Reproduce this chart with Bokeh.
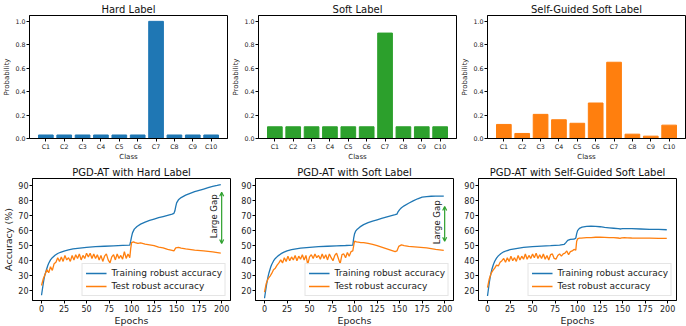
import math
from bokeh.plotting import figure
from bokeh.layouts import column, row
from bokeh.models import FactorRange, Range1d, Label, Arrow, OpenHead, FixedTicker, PrintfTickFormatter
from bokeh.embed import file_html
from bokeh.resources import INLINE

FONT = "DejaVu Sans"
BLUE = "#1f77b4"
ORANGE = "#ff7f0e"
GREEN = "#2ca02c"

# ---------------- data ----------------
classes = ["C1", "C2", "C3", "C4", "C5", "C6", "C7", "C8", "C9", "C10"]
hard_label = [0.03, 0.03, 0.03, 0.03, 0.03, 0.03, 1.0, 0.03, 0.03, 0.03]
soft_label = [0.1, 0.1, 0.1, 0.1, 0.1, 0.1, 0.9, 0.1, 0.1, 0.1]
sg_label = [0.12, 0.043, 0.206, 0.16, 0.13, 0.303, 0.651, 0.037, 0.02, 0.114]

bar_titles = ["Hard Label", "Soft Label", "Self-Guided Soft Label"]
bar_colors = [BLUE, GREEN, ORANGE]
prob_ticks = [0.0, 0.2, 0.4, 0.6, 0.8, 1.0]

# Training robust accuracy curves
hard_train_ep = [0, 1, 2, 3, 4, 5, 6, 7, 8, 10, 12, 15, 18, 21, 25, 30, 35, 40, 50, 60, 70, 80, 90, 98,
                 99, 100, 101, 103, 106, 110, 115, 120, 125, 130, 135, 140, 145, 147, 148, 149, 150,
                 152, 155, 160, 165, 170, 175, 180, 185, 190, 195, 199]
hard_train = [17, 21, 25, 28.5, 31, 33, 35, 36.8, 38.3, 40.5, 42, 43.6, 44.8, 45.6, 46.4, 47.2, 47.8, 48.2,
              48.8, 49.3, 49.6, 49.9, 50.2, 50.4, 53, 56, 58.5, 61, 62.8, 64.3, 65.7, 66.8, 67.7, 68.6,
              69.4, 70.2, 71, 71.5, 73, 76, 78.5, 80.5, 82, 83.6, 84.8, 85.9, 86.8, 87.7, 88.6, 89.4,
              90.1, 90.7]

soft_train_ep = [0, 1, 2, 3, 4, 5, 6, 7, 8, 10, 12, 15, 18, 21, 25, 30, 35, 40, 50, 60, 70, 80, 90, 98,
                 99, 100, 101, 103, 106, 110, 115, 120, 125, 130, 135, 140, 145, 147, 148, 150, 152,
                 155, 160, 165, 170, 175, 180, 185, 190, 199]
soft_train = [15, 19, 23, 26.5, 29.5, 32, 34, 36, 37.5, 39.8, 41.5, 43.2, 44.5, 45.5, 46.5, 47.3, 47.9,
              48.3, 48.9, 49.3, 49.6, 49.9, 50.1, 50.3, 55, 58, 59.5, 61, 62.5, 64, 65.3, 66.3, 67.2,
              68.1, 69, 69.8, 70.6, 71, 72.3, 74, 75.2, 76.5, 78.2, 79.8, 81.2, 82.3, 82.7, 82.9, 83, 83]

sg_train_ep = [0, 1, 2, 3, 4, 5, 6, 7, 8, 10, 12, 15, 18, 21, 25, 30, 35, 40, 50, 60, 70, 80, 85, 87,
               89, 92, 96, 98, 99, 100, 102, 105, 110, 115, 120, 125, 130, 135, 140, 145, 148, 150,
               155, 160, 170, 180, 190, 199]
sg_train = [16.5, 21, 25.5, 29, 32, 34.5, 36.5, 38.2, 39.6, 41.7, 43.2, 44.8, 45.9, 46.6, 47.3, 47.9,
            48.4, 48.8, 49.3, 49.7, 50, 50.4, 50.8, 52, 53.5, 54.2, 54.3, 55, 58, 60, 61.5, 62.3, 62.8,
            63, 62.9, 62.6, 62.2, 61.9, 61.6, 61.3, 61.1, 61.4, 61.4, 61.3, 61.1, 60.9, 60.8, 60.6]

# Test robust accuracy curves (noisy first phase, sampled every 2 epochs)
test_ep = [0, 2, 4, 6, 8, 10, 12, 14, 16, 18, 20, 22, 24, 26, 28, 30, 32, 34, 36, 38, 40, 42, 44, 46,
           48, 50, 52, 54, 56, 58, 60, 62, 64, 66, 68, 70, 72, 74, 76, 78, 80, 82, 84, 86, 88, 90, 92,
           94, 96, 98]
hard_test_head = [23.5, 28, 31, 34, 32, 36, 33.5, 38, 39, 42, 39.5, 42.5, 39.5, 43.5, 40.5, 42, 39.5, 43.5,
                  40.5, 44, 41.5, 44.5, 40.5, 43.5, 41.5, 45, 42.5, 45, 41.5, 44.5, 41.5, 44, 40.5, 43.5,
                  39.5, 43, 44.5, 40.5, 38.5, 42.5, 44, 40.5, 44.5, 41.5, 43.5, 41, 46, 41.5, 44.5, 42]
soft_test_head = [19, 25, 28, 29.5, 31.5, 34, 35, 37, 38.5, 40.5, 38.5, 42, 39.5, 43, 40, 42.5, 40.5, 43.5,
                  40, 43, 41, 44, 40.5, 43.5, 37.5, 42.5, 44, 41.5, 44.5, 42, 43.5, 41, 44.5, 41.5, 44,
                  40.5, 44.5, 42, 40, 43.5, 45, 41.5, 38, 44, 44.5, 42, 45.5, 43, 46, 46.5]
sg_test_head = [22, 28, 31.5, 33.5, 35, 37, 36.5, 39, 40, 41.5, 39, 42, 39.5, 43, 40, 42, 39.5, 43.5,
                40.5, 43, 41, 44.5, 41, 43.5, 41.5, 44.5, 42, 45, 41.5, 44, 41.5, 44.5, 41, 43.5,
                40.5, 44, 44.5, 41.5, 41, 43.5, 44.5, 43, 44.5, 45, 46.5, 44, 46, 46.5, 47.5, 47]

test_tail_ep = [99, 100, 102, 104, 107, 110, 115, 120, 125, 130, 135, 140, 145, 147, 149, 152, 155,
                160, 170, 180, 190, 199]
hard_test_tail = [48, 52, 52.5, 52, 51.5, 51.8, 51, 50.5, 50, 49, 48.5, 47.5, 46.8, 46.5, 48.5, 48.8,
                  48.3, 47.8, 47, 46.5, 45.8, 45]
soft_test_tail = [50, 53, 52.5, 52.3, 52, 52, 51.5, 50.8, 50, 49, 48, 47, 46, 46.5, 49.5, 50.5, 50,
                  49.5, 49, 48.5, 47.5, 46.8]
sg_test_tail = [53, 54.5, 55, 55, 55.2, 55.3, 55.4, 55.6, 55.6, 55.5, 55.4, 55.3, 55.1, 54.8, 55.2,
                55.3, 55.2, 55.1, 55, 55, 54.8, 54.8]

line_titles = ["PGD-AT with Hard Label", "PGD-AT with Soft Label", "PGD-AT with Self-Guided Soft Label"]
acc_ticks = [20, 30, 40, 50, 60, 70, 80, 90]
epoch_ticks = [0, 25, 50, 75, 100, 125, 150, 175, 200]

# gap annotations (epoch, low, high, text y)
gaps = [(200, 51.5, 85.5, 69.5), (200, 53, 76, 65.5), None]


def style(p, tick_size, label_size):
    p.title.text_font = FONT
    p.title.text_font_style = "normal"
    p.title.text_font_size = "10px"
    p.title.text_color = "#111111"
    p.title.align = "center"
    p.title.standoff = 2
    p.title.offset = 0
    p.outline_line_color = "black"
    p.outline_line_width = 1
    p.outline_line_alpha = 1
    p.xgrid.visible = False
    p.ygrid.visible = False
    for ax in (p.xaxis[0], p.yaxis[0]):
        ax.major_label_text_font = FONT
        ax.major_label_text_font_size = tick_size
        ax.major_label_text_color = "#222222"
        ax.axis_label_text_font = FONT
        ax.axis_label_text_font_size = label_size
        ax.axis_label_text_font_style = "normal"
        ax.axis_label_text_color = "#222222"
        ax.axis_line_color = "black"
        ax.major_tick_line_color = "black"
        ax.major_tick_out = 3
        ax.major_tick_in = 0
        ax.minor_tick_line_color = None
        ax.major_label_standoff = 1
        ax.axis_label_standoff = 1


top = []
for title, vals, col in zip(bar_titles, [hard_label, soft_label, sg_label], bar_colors):
    p = figure(frame_width=198, frame_height=123, output_backend="svg", toolbar_location=None,
               x_range=FactorRange(factors=classes, range_padding=0.39, range_padding_units="absolute"),
               y_range=Range1d(0, 1.05), title=title,
               min_border_left=23, min_border_right=2, min_border_top=0, min_border_bottom=0)
    p.vbar(x=classes, top=vals, width=0.8, color=col)
    style(p, "6.3px", "7px")
    p.xaxis.axis_label = "Class"
    p.xaxis.axis_label_standoff = 0
    p.yaxis.axis_label = "Probability"
    p.yaxis.ticker = FixedTicker(ticks=prob_ticks)
    p.yaxis.formatter = PrintfTickFormatter(format="%.1f")
    top.append(p)

bottom = []
for i, title in enumerate(line_titles):
    tr_ep, tr = [(hard_train_ep, hard_train), (soft_train_ep, soft_train), (sg_train_ep, sg_train)][i]
    te_h, te_t = [(hard_test_head, hard_test_tail), (soft_test_head, soft_test_tail),
                  (sg_test_head, sg_test_tail)][i]
    p = figure(frame_width=198, frame_height=122, output_backend="svg", toolbar_location=None,
               x_range=Range1d(-10, 209.8), y_range=Range1d(13.5, 94.7), title=title,
               min_border_left=23, min_border_right=2, min_border_top=0, min_border_bottom=0)
    p.line(tr_ep, tr, color=BLUE, line_width=1.3, legend_label="Training robust accuracy")
    p.line(test_ep + test_tail_ep, te_h + te_t, color=ORANGE, line_width=1.3,
           legend_label="Test robust accuracy")
    style(p, "8px", "9.5px")
    p.xaxis.axis_label = "Epochs"
    p.xaxis.axis_label_standoff = 0
    p.yaxis.axis_label = "Accuracy (%)" if i == 0 else None
    p.yaxis.ticker = FixedTicker(ticks=acc_ticks)
    p.xaxis.ticker = FixedTicker(ticks=epoch_ticks)
    p.legend.location = "bottom_right"
    p.legend.label_text_font = FONT
    p.legend.label_text_font_size = "9px"
    p.legend.label_text_color = "#222222"
    p.legend.glyph_width = 21
    p.legend.glyph_height = 12
    p.legend.label_height = 12
    p.legend.label_standoff = 5
    p.legend.spacing = 1
    p.legend.padding = 3
    p.legend.margin = 4
    p.legend.border_line_color = "#cccccc"
    p.legend.background_fill_alpha = 0.85
    g = gaps[i]
    if g is not None:
        ex, lo, hi, ty = g
        p.add_layout(Arrow(x_start=ex, y_start=lo, x_end=ex, y_end=hi, line_color=GREEN, line_width=1.2,
                           start=OpenHead(size=4, line_color=GREEN, line_width=1.2),
                           end=OpenHead(size=4, line_color=GREEN, line_width=1.2)))
        p.add_layout(Label(x=ex - 8.5, y=ty, text="Large Gap", angle=math.pi / 2, text_align="center",
                           text_baseline="middle", text_font=FONT, text_font_size="8.5px",
                           text_color="#222222"))
    bottom.append(p)

layout = column(row(*top, spacing=0), row(*bottom, spacing=0), spacing=0)
open("out.html", "w").write(file_html(layout, INLINE))
